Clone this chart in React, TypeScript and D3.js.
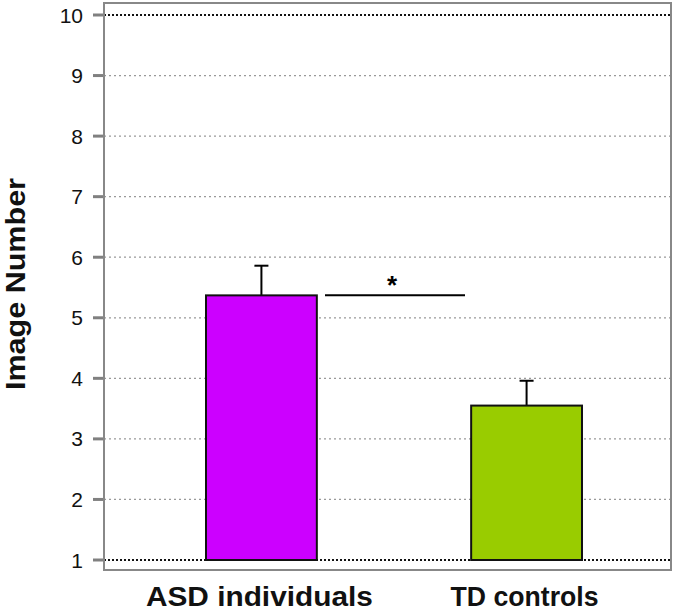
import React from "react";
import * as d3 from "d3";

const categories = ["ASD individuals", "TD controls"];
const means = [5.37, 3.55];
const errors = [0.49, 0.41];
const colors = ["#cc00ff", "#99cc00"];
const yTicks = [1, 2, 3, 4, 5, 6, 7, 8, 9, 10];
const labelWidths = [227, 148];

export default function App() {
  const W = 675, H = 611;
  const frame = { x0: 104, x1: 671, y0: 3, y1: 570 };
  const y = d3.scaleLinear().domain([1, 10]).range([560, 15]);
  const x = d3.scaleBand().domain(categories).range([206, 582]).paddingInner(0.582).paddingOuter(0);
  const font = "Arial, 'Liberation Sans', sans-serif";
  const sigY = y(means[0]);
  return (
    <svg width={W} height={H} style={{ position: "absolute", left: 0, top: 0 }}>
      <rect x={0} y={0} width={W} height={H} fill="#fff" />
      {yTicks.map((t) => {
        const edge = t === 1 || t === 10;
        return (
          <g key={t}>
            <line x1={frame.x0} x2={frame.x1} y1={y(t)} y2={y(t)}
              stroke={edge ? "#111" : "#999"} strokeWidth={edge ? 2 : 1.2}
              strokeDasharray={edge ? "2,2" : "2,3"} />
            <line x1={93} x2={frame.x0} y1={y(t)} y2={y(t)} stroke="#808080" strokeWidth={3} />
            <text x={83} y={y(t)} dy="0.36em" textAnchor="end" fontFamily={font} fontSize={21} fill="#111">{t}</text>
          </g>
        );
      })}
      <rect x={frame.x0} y={frame.y0} width={frame.x1 - frame.x0} height={frame.y1 - frame.y0}
        fill="none" stroke="#888" strokeWidth={2} />
      {categories.map((c, i) => {
        const bx = x(c)!;
        const bw = x.bandwidth();
        const cx = bx + bw / 2;
        return (
          <g key={c}>
            <line x1={cx} x2={cx} y1={y(means[i])} y2={y(means[i] + errors[i])} stroke="#000" strokeWidth={2} />
            <line x1={cx - 7} x2={cx + 7} y1={y(means[i] + errors[i])} y2={y(means[i] + errors[i])} stroke="#000" strokeWidth={2} />
            <rect x={bx} y={y(means[i])} width={bw} height={y(1) - y(means[i])}
              fill={colors[i]} stroke="#111" strokeWidth={2} />
            <text x={cx - 2} y={606} textAnchor="middle" fontFamily={font} fontSize={27} fontWeight="bold" fill="#111"
              textLength={labelWidths[i]} lengthAdjust="spacingAndGlyphs">{c}</text>
          </g>
        );
      })}
      <line x1={325} x2={465} y1={sigY} y2={sigY} stroke="#000" strokeWidth={2} />
      <text x={392} y={sigY - 1} textAnchor="middle" fontFamily={font} fontSize={26} fontWeight="bold" fill="#000">*</text>
      <text transform={`translate(25,284) rotate(-90)`} textAnchor="middle"
        fontFamily={font} fontSize={27} fontWeight="bold" fill="#111"
        textLength={212} lengthAdjust="spacingAndGlyphs">Image Number</text>
    </svg>
  );
}
